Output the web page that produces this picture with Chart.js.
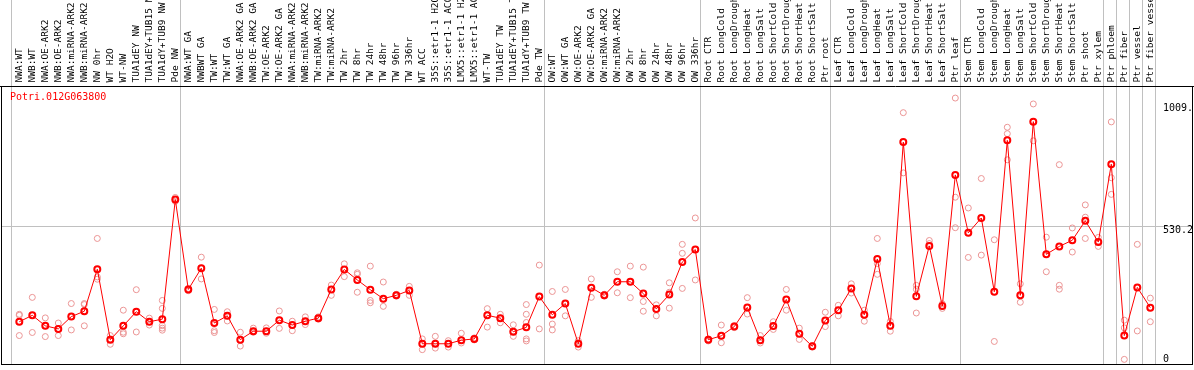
<!DOCTYPE html>
<html>
<head>
<meta charset="utf-8">
<script src="https://cdn.jsdelivr.net/npm/chart.js@4.4.1/dist/chart.umd.min.js"></script>
<style>
    html, body { margin: 0; padding: 0; background: #fff; }
    #chart { display: block; }
</style>
</head>
<body>
<canvas id="chart" width="1194" height="370"></canvas>
<script>
const geneName = 'Potri.012G063800';

const categories = [
    'NWA:WT', 'NWB:WT', 'NWA:OE-ARK2', 'NWB:OE-ARK2', 'NWA:miRNA-ARK2', 'NWB:miRNA-ARK2',
    'NW 0hr', 'WT H2O', 'WT-NW', 'TUA1dEY NW', 'TUA1dEY+TUB15 NW', 'TUA1dY+TUB9 NW', 'Pde NW',
    'NWA:WT GA', 'NWBWT GA', 'TW:WT', 'TW:WT GA', 'NWA:OE-ARK2 GA', 'NWB:OE-ARK2 GA',
    'TW:OE-ARK2', 'TW:OE-ARK2 GA', 'NWA:miRNA-ARK2', 'NWB:miRNA-ARK2', 'TW:miRNA-ARK2',
    'TW:miRNA-ARK2', 'TW 2hr', 'TW 8hr', 'TW 24hr', 'TW 48hr', 'TW 96hr', 'TW 336hr',
    'WT ACC', '35S::etr1-1 H2O', '35S::etr1-1 ACC', 'LMX5::etr1-1 H2O', 'LMX5::etr1-1 ACC',
    'WT-TW', 'TUA1dEY TW', 'TUA1dEY+TUB15 TW', 'TUA1dY+TUB9 TW', 'Pde TW',
    'OW:WT', 'OW:WT GA', 'OW:OE-ARK2', 'OW:OE-ARK2 GA', 'OW:miRNA-ARK2', 'OW:miRNA-ARK2',
    'OW 2hr', 'OW 8hr', 'OW 24hr', 'OW 48hr', 'OW 96hr', 'OW 336hr',
    'Root CTR', 'Root LongCold', 'Root LongDrought', 'Root LongHeat', 'Root LongSalt',
    'Root ShortCold', 'Root ShortDrought', 'Root ShortHeat', 'Root ShortSalt', 'Ptr root',
    'Leaf CTR', 'Leaf LongCold', 'Leaf LongDrought', 'Leaf LongHeat', 'Leaf LongSalt',
    'Leaf ShortCold', 'Leaf ShortDrought', 'Leaf ShortHeat', 'Leaf ShortSalt', 'Ptr leaf',
    'Stem CTR', 'Stem LongCold', 'Stem LongDrought', 'Stem LongHeat', 'Stem LongSalt',
    'Stem ShortCold', 'Stem ShortDrought', 'Stem ShortHeat', 'Stem ShortSalt', 'Ptr shoot',
    'Ptr xylem', 'Ptr phloem', 'Ptr fiber', 'Ptr vessel', 'Ptr fiber vessel'
];

// index of the first sample of each group (vertical separators)
const groupStarts = [0, 13, 41, 53, 63, 73, 84, 85, 86, 87, 88];

// mean expression per sample
const means = [
    155, 180, 139, 127, 175, 196, 360, 85, 139, 194, 155, 165, 632,
    281, 364, 150, 178, 85, 118, 118, 161, 142, 157, 169, 281, 359, 318, 280, 245, 258, 277,
    69, 69, 69, 83, 88, 180, 169, 116, 133, 253,
    182, 226, 69, 288, 258, 311, 311, 265, 205, 261, 388, 437,
    85, 100, 136, 211, 83, 138, 242, 108, 59, 160,
    200, 285, 182, 400, 139, 856, 254, 451, 216, 728,
    502, 560, 272, 863, 258, 936, 418, 449, 473, 549, 466,
    770, 101, 289, 210
];

// replicate values per sample
const replicates = [
    [184, 180, 101], [250, 180, 113], [170, 139, 97], [150, 127, 101], [226, 175, 123],
    [226, 222, 139], [480, 321, 330], [67, 101, 88], [200, 114, 108], [280, 115, 194],
    [169, 142, 155], [238, 207, 140, 130, 122], [640, 625, 632],
    [281, 285, 276], [407, 322, 364], [203, 120, 113], [194, 158, 178], [114, 60, 85],
    [130, 114, 118], [131, 110, 118], [197, 129, 161], [157, 120, 142], [174, 144, 157],
    [174, 165, 169], [298, 258, 281], [381, 331, 359], [346, 270, 340], [372, 238, 229],
    [310, 215, 245], [262, 255, 258], [293, 258, 277], [88, 46, 69], [98, 52, 69],
    [81, 56, 69], [110, 72, 83], [92, 84, 88], [206, 134, 180], [184, 151, 169],
    [143, 98, 116], [222, 184, 152, 88, 80], [376, 127, 253],
    [273, 146, 123], [281, 178, 226], [81, 56, 69], [322, 250, 288], [262, 255, 258],
    [350, 268, 311], [372, 249, 311], [368, 234, 196], [221, 178, 205], [307, 208, 270],
    [457, 422, 285], [560, 318, 437],
    [80, 85, 88], [142, 73, 100], [140, 132, 136], [249, 185, 211], [101, 72, 83],
    [155, 125, 138], [281, 200, 242], [130, 86, 108], [62, 56, 59], [192, 136, 160],
    [219, 178, 200], [303, 267, 285], [200, 157, 182], [480, 382, 340], [156, 118, 139],
    [971, 736, 856], [297, 282, 189], [472, 460, 451], [225, 207, 216], [1028, 641, 522],
    [599, 406, 502], [714, 415, 560], [475, 78, 272], [914, 889, 787], [303, 231, 258],
    [1005, 861, 936], [485, 350, 418], [768, 297, 282], [521, 427, 473], [611, 563, 480],
    [484, 449, 466],
    [935, 717, 652], [161, 131, 8], [457, 119, 289], [247, 155, 210]
];

const yTicks = [0, 530.2, 1009];
const yTickLabels = ['0', '530.2', '1009.'];

const monoFont = '"DejaVu Sans Mono", "Liberation Mono", monospace';

// puntos de réplicas, x = índice de la muestra
const replicatePoints = [];
replicates.forEach((vals, i) => {
    vals.forEach(v => replicatePoints.push({ x: i, y: v }));
});

// separadores, marco, rejilla y textos
const framePlugin = {
    id: 'frame',
    beforeDatasetsDraw(chart) {
        const ctx = chart.ctx;
        const xr = chart.scales.xr;
        const y = chart.scales.y;
        const area = chart.chartArea;
        const W = chart.width;
        ctx.save();
        ctx.lineWidth = 1;

        // línea horizontal de la rejilla (solo 530.2)
        ctx.strokeStyle = '#c0c0c0';
        const gy = Math.round(y.getPixelForValue(yTicks[1])) + 0.5;
        ctx.beginPath();
        ctx.moveTo(1, gy);
        ctx.lineTo(W - 1, gy);
        ctx.stroke();

        // separadores de grupos
        groupStarts.forEach(g => {
            const px = Math.round(xr.getPixelForValue(g - 0.5) - 2) + 0.5;
            ctx.beginPath();
            ctx.moveTo(px, 0);
            ctx.lineTo(px, area.bottom);
            ctx.stroke();
        });

        // marco negro
        ctx.strokeStyle = '#000';
        const top = Math.round(area.top) + 0.5;
        const bottom = Math.round(area.bottom) + 0.5;
        ctx.beginPath();
        ctx.moveTo(0, top);
        ctx.lineTo(W, top);
        ctx.moveTo(1.5, top);
        ctx.lineTo(1.5, bottom);
        ctx.moveTo(1, bottom);
        ctx.lineTo(W - 1, bottom);
        ctx.moveTo(W - 1.5, top);
        ctx.lineTo(W - 1.5, bottom);
        ctx.stroke();
        ctx.restore();
    },
    afterDraw(chart) {
        const ctx = chart.ctx;
        const y = chart.scales.y;
        const area = chart.chartArea;
        ctx.save();
        ctx.font = '10px ' + monoFont;
        ctx.textBaseline = 'top';
        ctx.textAlign = 'left';

        // título del gen
        ctx.fillStyle = '#ff0000';
        ctx.fillText(geneName, 10, area.top + 7);

        // etiquetas del eje derecho
        ctx.fillStyle = '#000';
        yTicks.forEach((v, i) => {
            let py = y.getPixelForValue(v);
            if (py + 9 > area.bottom) py = area.bottom - 10;
            ctx.fillText(yTickLabels[i], 1163, py);
        });
        ctx.restore();
    }
};

new Chart(document.getElementById('chart'), {
    data: {
        labels: categories,
        datasets: [
            {
                type: 'line',
                data: means,
                xAxisID: 'x',
                borderColor: '#ff0000',
                borderWidth: 1,
                tension: 0,
                pointRadius: 3,
                pointBorderWidth: 2,
                pointBorderColor: '#ff0000',
                pointBackgroundColor: 'rgba(0,0,0,0)'
            },
            {
                type: 'scatter',
                data: replicatePoints,
                xAxisID: 'xr',
                showLine: false,
                pointRadius: 3,
                pointBorderWidth: 1,
                pointBorderColor: '#eb9595',
                pointBackgroundColor: 'rgba(0,0,0,0)'
            }
        ]
    },
    options: {
        responsive: false,
        animation: false,
        devicePixelRatio: 1,
        layout: { padding: { left: 12.8, right: 0, top: 0, bottom: 1.5 } },
        plugins: {
            legend: { display: false },
            tooltip: { enabled: false }
        },
        scales: {
            x: {
                type: 'category',
                position: 'top',
                offset: true,
                grid: { display: false, drawTicks: false },
                border: { display: false },
                ticks: {
                    autoSkip: false,
                    minRotation: 90,
                    maxRotation: 90,
                    padding: 3,
                    labelOffset: 12,
                    color: '#000',
                    font: { family: monoFont, size: 9.5 }
                },
                afterFit: scale => { scale.height = 85.5; }
            },
            xr: {
                type: 'linear',
                display: false,
                min: -0.5,
                max: categories.length - 0.5
            },
            y: {
                type: 'linear',
                position: 'right',
                min: -10,
                max: 1077,
                grid: { display: false },
                border: { display: false },
                ticks: { display: false },
                afterBuildTicks: scale => {
                    scale.ticks = yTicks.map(v => ({ value: v }));
                },
                afterFit: scale => { scale.width = 37.2; }
            }
        }
    },
    plugins: [framePlugin]
});
</script>
</body>
</html>
